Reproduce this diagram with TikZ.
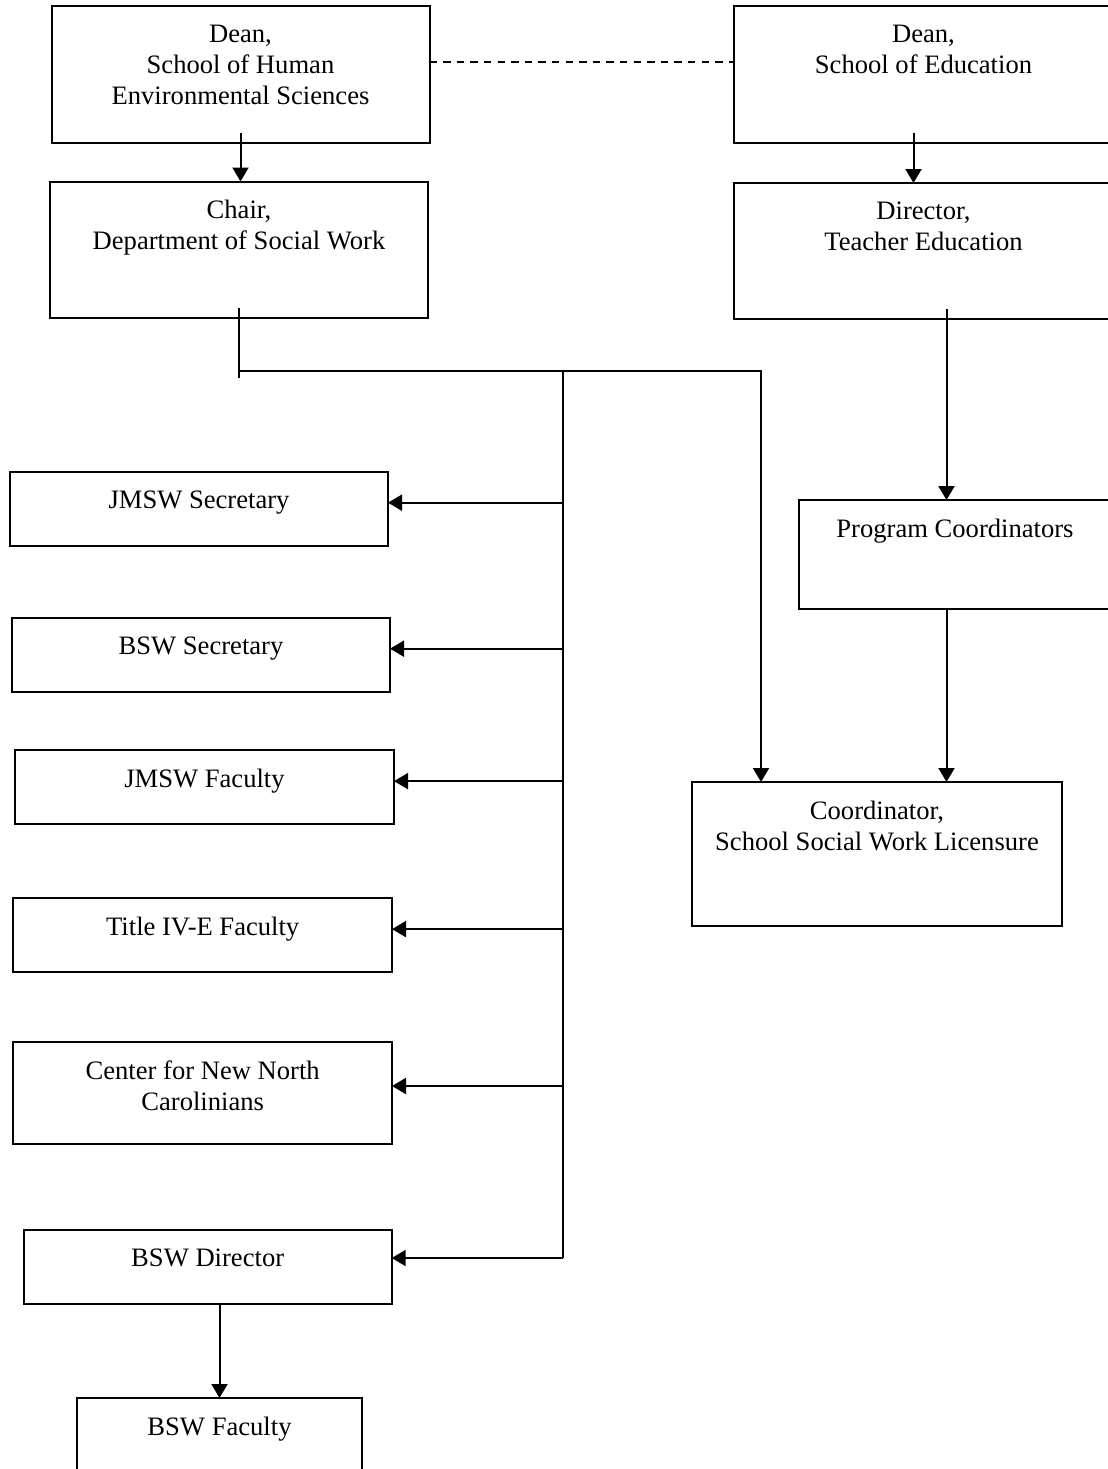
\documentclass[tikz,border=0pt]{standalone}
\usepackage{fontspec}
\setmainfont{Liberation Serif}
\usetikzlibrary{arrows.meta, positioning}

\begin{document}
\begin{tikzpicture}[
  x=0.5pt, y=-0.5pt,
  >={Triangle[length=7pt,width=8pt]},
  line width=1pt,
  font=\fontsize{13.3}{15.5}\selectfont,
  orgbox/.style={draw, line width=1pt, rectangle, inner sep=0pt, outer sep=0pt, anchor=north west},
  boxtext/.style={align=center, inner sep=0pt, anchor=north},
  dashline/.style={dash pattern=on 3.7pt off 3.1pt}
]
  \useasboundingbox (0,0) rectangle (1108,1469);
  \clip (0,0) rectangle (1108,1469);

  % Upper row: deans and department heads
  \node[orgbox, minimum width=189pt, minimum height=68.5pt] (deanhes) at (51.5,6) {};
  \node[boxtext, below=9pt of deanhes.north] (deanhes-t) {Dean,\\School of Human\\Environmental Sciences};
  \node[orgbox, minimum width=190pt, minimum height=68.5pt] (deanedu) at (733.5,6) {};
  \node[boxtext, below=9pt of deanedu.north] (deanedu-t) {Dean,\\School of Education};
  \node[orgbox, minimum width=189pt, minimum height=68pt] (chair) at (50,181.5) {};
  \node[boxtext, below=9pt of chair.north] (chair-t) {Chair,\\Department of Social Work};
  \node[orgbox, minimum width=190pt, minimum height=68pt] (dirte) at (733.5,183) {};
  \node[boxtext, below=9pt of dirte.north] (dirte-t) {Director,\\Teacher Education};

  % Right column: teacher education side
  \node[orgbox, minimum width=156pt, minimum height=54.5pt] (progco) at (799,500) {};
  \node[boxtext, below=9pt of progco.north] (progco-t) {Program Coordinators};
  \node[orgbox, minimum width=185pt, minimum height=72pt] (sswl) at (692,782) {};
  \node[boxtext, below=9pt of sswl.north] (sswl-t) {Coordinator,\\School Social Work Licensure};

  % Left column: units under the chair
  \node[orgbox, minimum width=189pt, minimum height=37pt] (jmswsec) at (10,472) {};
  \node[boxtext, below=9pt of jmswsec.north] (jmswsec-t) {JMSW Secretary};
  \node[orgbox, minimum width=189pt, minimum height=37pt] (bswsec) at (12,618) {};
  \node[boxtext, below=9pt of bswsec.north] (bswsec-t) {BSW Secretary};
  \node[orgbox, minimum width=189.5pt, minimum height=37pt] (jmswfac) at (15,750) {};
  \node[boxtext, below=9pt of jmswfac.north] (jmswfac-t) {JMSW Faculty};
  \node[orgbox, minimum width=189.3pt, minimum height=37pt] (titlefac) at (13.4,898) {};
  \node[boxtext, below=9pt of titlefac.north] (titlefac-t) {Title IV-E Faculty};
  \node[orgbox, minimum width=189.3pt, minimum height=51pt] (cnnc) at (13.4,1042) {};
  \node[boxtext, below=9pt of cnnc.north] (cnnc-t) {Center for New North\\Carolinians};
  \node[orgbox, minimum width=184pt, minimum height=37pt] (bswdir) at (23.7,1230) {};
  \node[boxtext, below=9pt of bswdir.north] (bswdir-t) {BSW Director};
  \node[orgbox, minimum width=142.5pt, minimum height=60pt] (bswfac) at (77,1398) {};
  \node[boxtext, below=9pt of bswfac.north] (bswfac-t) {BSW Faculty};

  % Bus from the chair
  \coordinate (busTop) at (563,371);
  \coordinate (busEnd) at (563,1258);

  % Connections
  \draw[dashline] ([yshift=6.4pt]deanhes.east) -- ([yshift=6.4pt]deanedu.west);
  \draw[->] ([yshift=5pt]deanhes.south) -- (deanhes.south |- chair.north);
  \draw[->] ([xshift=-5pt,yshift=5pt]deanedu.south) -- ([xshift=-5pt]deanedu.south |- dirte.north);
  \draw[->] ([xshift=11.5pt,yshift=5pt]dirte.south) -- ([xshift=11.5pt]dirte.south |- progco.north);
  \draw[->] ([xshift=-4.25pt]progco.south) -- ([xshift=-4.25pt]progco.south |- sswl.north);

  \draw ([yshift=5pt]chair.south) -- ++(0,70) coordinate (chairTick);
  \draw[->] (chair.south |- busTop) -| ([xshift=34.5pt]sswl.north west);
  \draw (busTop) -- (busEnd);
  \foreach \n in {jmswsec, bswsec, jmswfac, titlefac, cnnc, bswdir}
    \draw[->] (busTop |- \n-t) -- (\n.east |- \n-t);

  \draw[->] (bswfac.north |- bswdir.south) -- (bswfac.north);

\end{tikzpicture}
\end{document}
